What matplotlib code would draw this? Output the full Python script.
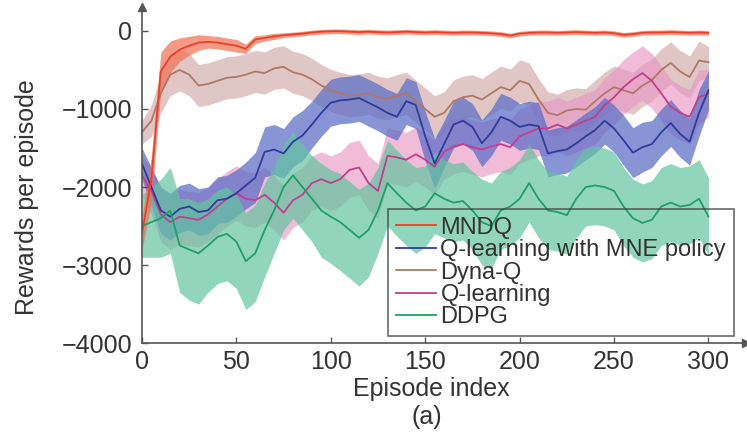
import numpy as np
import matplotlib
matplotlib.use("Agg")
import matplotlib.pyplot as plt

plt.rcParams["font.family"] = ["Liberation Sans", "DejaVu Sans"]

# ---------------------------------------------------------
# Dados (a cada 5 episódios)
# ---------------------------------------------------------
episodes = list(range(0, 301, 5))

mndq_mean = [-2600, -1900, -520, -330, -240, -190, -150, -140, -150, -170,
             -190, -230, -110, -90, -70, -55, -45, -35, -20, -10,
             -5, -5, -10, -15, -10, -15, -20, -15, -10, -15,
             -20, -15, -20, -25, -20, -20, -25, -30, -40, -60,
             -35, -25, -20, -20, -25, -20, -15, -20, -25, -20,
             -30, -50, -40, -25, -20, -20, -15, -20, -25, -20, -25]
mndq_std = [200, 300, 250, 200, 150, 120, 100, 80, 80, 80,
            80, 60, 50, 40, 40, 30, 30, 30, 30, 30,
            30, 30, 30, 30, 30, 30, 30, 30, 30, 30,
            30, 30, 30, 30, 30, 30, 30, 30, 30, 30,
            30, 30, 30, 30, 30, 30, 30, 30, 30, 30,
            30, 30, 30, 30, 30, 30, 30, 30, 30, 30, 30]

mne_mean = [-1700, -2000, -2300, -2380, -2280, -2250, -2320, -2300, -2170, -2150,
            -2080, -1980, -1880, -1550, -1520, -1570, -1420, -1340, -1200, -1050,
            -920, -890, -880, -860, -920, -980, -1050, -1100, -900, -950,
            -1350, -1700, -1450, -1200, -1150, -1230, -1440, -1300, -1100, -1150,
            -1230, -1200, -1220, -1570, -1540, -1520, -1440, -1350, -1270, -1150,
            -1250, -1400, -1560, -1490, -1450, -1300, -1180, -1320, -1420, -1050, -760]
mne_std = [200, 250, 300, 300, 300, 300, 300, 300, 300, 300,
           300, 300, 320, 320, 320, 320, 320, 320, 300, 300,
           300, 300, 300, 300, 300, 300, 300, 300, 300, 300,
           320, 320, 300, 300, 300, 300, 300, 300, 300, 300,
           300, 300, 300, 300, 300, 300, 300, 300, 300, 300,
           300, 320, 320, 320, 300, 300, 300, 300, 300, 300, 250]

dyna_mean = [-1300, -1150, -800, -560, -500, -560, -700, -680, -640, -600,
             -590, -560, -520, -540, -480, -460, -530, -560, -620, -700,
             -760, -800, -830, -820, -800, -850, -870, -830, -800, -900,
             -1000, -1100, -1050, -900, -850, -830, -880, -800, -720, -760,
             -640, -680, -880, -1050, -1080, -1020, -1000, -1010, -900, -800,
             -720, -760, -800, -700, -630, -500, -410, -520, -590, -380, -400]
dyna_std = [150, 200, 250, 270, 270, 270, 270, 270, 270, 270,
            270, 270, 270, 270, 270, 270, 270, 270, 270, 270,
            270, 270, 270, 270, 270, 270, 270, 270, 270, 270,
            270, 270, 270, 270, 270, 270, 270, 270, 270, 270,
            270, 270, 270, 270, 270, 270, 270, 270, 270, 270,
            270, 270, 270, 270, 270, 270, 270, 270, 270, 250, 200]

ql_mean = [-1850, -2050, -2350, -2450, -2380, -2400, -2420, -2350, -2250, -2150,
           -2080, -2150, -2170, -2100, -2200, -2330, -2170, -2100, -1950, -1900,
           -1950, -1900, -1780, -1750, -1950, -2050, -1600, -1620, -1650, -1580,
           -1650, -1740, -1550, -1480, -1450, -1490, -1520, -1480, -1450, -1490,
           -1350, -1300, -1250, -1250, -1200, -1250, -1200, -1150, -1100, -950,
           -850, -720, -620, -540, -640, -800, -970, -1050, -1100, -850, -800]
ql_std = [250, 300, 350, 350, 350, 350, 350, 350, 350, 350,
          350, 350, 350, 350, 350, 350, 350, 350, 350, 350,
          350, 350, 350, 350, 350, 350, 350, 350, 350, 350,
          350, 350, 350, 350, 350, 350, 350, 350, 350, 350,
          350, 350, 350, 350, 350, 350, 350, 350, 350, 350,
          350, 350, 350, 350, 350, 350, 350, 350, 350, 350, 300]

ddpg_mean = [-2500, -2450, -2400, -2300, -2750, -2800, -2850, -2750, -2640, -2600,
             -2700, -2950, -2850, -2550, -2300, -2000, -1850, -2000, -2150, -2300,
             -2380, -2450, -2550, -2650, -2550, -2300, -1950, -2080, -2200, -2300,
             -2250, -2080, -2150, -2200, -2180, -2300, -2450, -2500, -2300, -2250,
             -2150, -1950, -2150, -2300, -2320, -2360, -2150, -2000, -1980, -2000,
             -2050, -2250, -2400, -2460, -2420, -2250, -2200, -2250, -2230, -2150, -2380]
ddpg_std = [400, 450, 500, 550, 600, 650, 650, 600, 600, 600,
            600, 620, 620, 600, 550, 550, 550, 550, 550, 600,
            600, 620, 620, 620, 600, 550, 550, 550, 550, 550,
            520, 520, 500, 500, 500, 500, 550, 550, 500, 500,
            500, 500, 500, 500, 500, 500, 500, 500, 500, 500,
            500, 500, 500, 500, 500, 500, 500, 500, 500, 500, 500]

labels = ["MNDQ", "Q-learning with MNE policy", "Dyna-Q", "Q-learning", "DDPG"]

# ---------------------------------------------------------
# Gráfico
# ---------------------------------------------------------
fig = plt.figure(figsize=(7.47, 4.41), dpi=100)
ax = fig.add_axes([0.190, 0.222, 0.809, 0.761])

x = np.array(episodes)
series = [
    # (média, desvio, cor da linha, cor da faixa, alpha, rótulo)
    (dyna_mean, dyna_std, "#b07868", "#d6b4b0", 0.75, labels[2]),
    (ql_mean, ql_std, "#c0408c", "#e898c4", 0.65, labels[3]),
    (mne_mean, mne_std, "#303c9c", "#5a6cc6", 0.72, labels[1]),
    (ddpg_mean, ddpg_std, "#20a068", "#62c4a0", 0.7, labels[4]),
    (mndq_mean, mndq_std, "#e8402a", "#f07050", 0.7, labels[0]),
]

handles = {}
for mean, std, lc, fc, a, lab in series:
    m = np.array(mean, dtype=float)
    s = np.array(std, dtype=float)
    ax.fill_between(x, m - s, m + s, color=fc, alpha=a, linewidth=0)
    h, = ax.plot(x, m, color=lc, linewidth=1.3, label=lab)
    handles[lab] = h

ax.set_xlim(0, 320)
ax.set_ylim(-4000, 300)
ax.set_xticks([0, 50, 100, 150, 200, 250, 300])
ax.set_yticks([-4000, -3000, -2000, -1000, 0])

for side in ["top", "right"]:
    ax.spines[side].set_visible(False)
for side in ["left", "bottom"]:
    ax.spines[side].set_color("#555555")
    ax.spines[side].set_linewidth(1.2)

# setas dos eixos
ax.plot(1, 0, ">", color="#555555", markersize=6, transform=ax.transAxes, clip_on=False)
ax.plot(0, 1, "^", color="#555555", markersize=6, transform=ax.transAxes, clip_on=False)

ax.tick_params(direction="in", length=4, width=1, colors="#555555",
               labelcolor="#333333", labelsize=18)
ax.tick_params(axis="y", pad=7)
ax.tick_params(axis="x", pad=5)

ax.set_xlabel("Episode index", fontsize=18, color="#333333", va="center")
ax.xaxis.set_label_coords(0.479, -0.137)
ax.set_ylabel("Rewards per episode", fontsize=18, color="#333333", va="center")
ax.yaxis.set_label_coords(-0.190, 0.435)
fig.text(0.572, 0.054, "(a)", fontsize=18, color="#333333", ha="center", va="center")

leg = ax.legend([handles[l] for l in labels], labels,
                loc="lower right", bbox_to_anchor=(0.979, 0.021),
                fontsize=17, frameon=True, fancybox=False,
                handlelength=1.7, handletextpad=0.2, labelspacing=0.02,
                borderpad=0.32, borderaxespad=0)
leg.get_frame().set_facecolor("none")
leg.get_frame().set_edgecolor("#444444")
leg.get_frame().set_linewidth(1.2)
for t in leg.get_texts():
    t.set_color("#333333")

fig.savefig("out.png", dpi=100)
